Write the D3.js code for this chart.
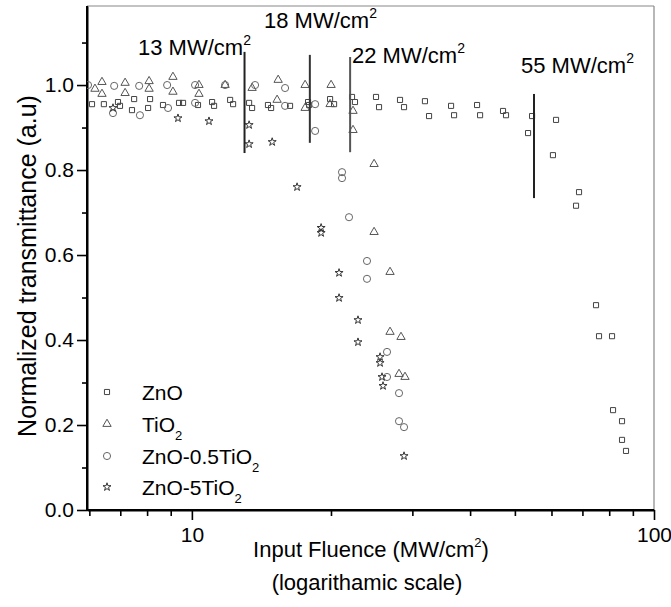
<!DOCTYPE html>
<html>
<head>
<meta charset="utf-8">
<script src="https://cdn.jsdelivr.net/npm/d3@7"></script>
<style>
  body { margin: 0; background: #fff; }
  svg { display: block; }
  text { font-family: "Liberation Sans", Arial, Helvetica, sans-serif; fill: #000; }
</style>
</head>
<body>
<svg id="chart" width="671" height="607"></svg>
<script>
// ---- data: input fluence (MW/cm^2) and normalized transmittance per sample ----
const znoFluence = [6.08,6.45,6.92,6.99,7.50,7.42,8.04,8.12,8.66,9.38,9.57,10.31,11.06,11.17,12.10,12.28,13.30,13.50,14.61,14.84,16.31,17.84,17.93,19.91,20.31,22.21,22.54,25.03,25.41,28.21,28.78,31.94,32.60,36.38,36.93,41.41,42.04,47.13,47.84,54.47,53.39,61.38,60.44,68.83,67.81,74.91,76.04,81.13,81.54,85.27,85.27,86.98];
const znoT = [0.955,0.955,0.960,0.951,0.967,0.941,0.946,0.967,0.953,0.958,0.958,0.953,0.960,0.951,0.965,0.955,0.958,0.946,0.953,0.946,0.951,0.960,0.953,0.967,0.955,0.972,0.960,0.972,0.948,0.965,0.948,0.962,0.927,0.951,0.929,0.953,0.929,0.939,0.929,0.927,0.887,0.918,0.835,0.748,0.716,0.482,0.409,0.409,0.235,0.209,0.165,0.139];

const tio2Fluence = [6.17,6.39,6.39,7.17,7.17,8.08,8.08,9.10,9.10,10.36,10.36,11.80,13.50,15.37,15.29,17.58,17.58,20.01,19.91,22.32,22.32,24.79,24.79,26.84,26.84,28.35,28.07,28.92];
const tio2T = [0.991,1.007,0.979,1.005,0.981,1.009,0.991,1.019,0.984,1.000,0.979,1.000,0.993,1.012,0.965,1.000,0.946,1.000,0.955,0.939,0.894,0.814,0.654,0.560,0.419,0.407,0.320,0.313];

const mix05Fluence = [5.96,6.79,6.75,7.69,7.72,8.84,8.88,10.16,10.16,11.80,13.70,15.91,15.91,18.48,18.48,21.13,21.13,21.88,23.93,23.93,26.44,26.44,28.07,28.07,28.78];
const mix05T = [1.000,0.998,0.934,0.998,0.929,1.000,0.946,1.000,0.958,1.000,1.000,0.993,0.951,0.955,0.892,0.795,0.781,0.689,0.586,0.544,0.372,0.313,0.275,0.209,0.195];

const mix5Fluence = [6.75,9.33,10.89,13.30,13.30,14.92,16.89,19.04,19.04,20.82,20.82,22.88,22.88,25.54,25.54,25.79,25.92,28.78];
const mix5T = [0.946,0.922,0.915,0.906,0.861,0.866,0.760,0.664,0.652,0.558,0.499,0.447,0.395,0.360,0.346,0.313,0.292,0.127];

// threshold markers: fluence and vertical extent (transmittance)
const thresholdFluence = [13, 18, 22, 55];
const thresholdTop = [1.078, 1.071, 1.066, 0.979];
const thresholdBottom = [0.840, 0.864, 0.842, 0.734];

// axis ticks
const xMajorTicks = [10, 100];
const xMinorTicks = [6, 7, 8, 9, 20, 30, 40, 50, 60, 70, 80, 90];
const yMajorTicks = [0.0, 0.2, 0.4, 0.6, 0.8, 1.0];
const yMinorTicks = [0.1, 0.3, 0.5, 0.7, 0.9, 1.1];

const seriesNames = ["ZnO", "TiO", "ZnO-0.5TiO", "ZnO-5TiO"];
const seriesSubs = ["", "2", "2", "2"];

// ---- layout ----
const svg = d3.select("#chart");
const L = 87, R = 654, T = 6, B = 510;

const x = d3.scaleLog().domain([5.93, 100]).range([L, R]);
const y = d3.scaleLinear().domain([0, 1.186]).range([B, T]);

svg.append("defs").append("clipPath").attr("id", "plotClip")
  .append("rect").attr("x", L).attr("y", T).attr("width", R - L).attr("height", B - T);

// frame (top and right)
svg.append("line").attr("x1", L).attr("x2", R).attr("y1", T).attr("y2", T)
  .attr("stroke", "#888").attr("stroke-width", 1.2);
svg.append("line").attr("x1", R).attr("x2", R).attr("y1", T).attr("y2", B)
  .attr("stroke", "#888").attr("stroke-width", 1.2);

// x axis
const gxMinor = svg.append("g").attr("transform", `translate(0,${B})`)
  .call(d3.axisBottom(x).tickValues(xMinorTicks).tickSize(6).tickSizeOuter(0).tickFormat(""));
const gx = svg.append("g").attr("transform", `translate(0,${B})`)
  .call(d3.axisBottom(x).tickValues(xMajorTicks).tickSize(10).tickSizeOuter(0).tickPadding(7)
    .tickFormat(d3.format("d")));
// y axis
const gyMinor = svg.append("g").attr("transform", `translate(${L},0)`)
  .call(d3.axisLeft(y).tickValues(yMinorTicks).tickSize(5).tickSizeOuter(0).tickFormat(""));
const gy = svg.append("g").attr("transform", `translate(${L},0)`)
  .call(d3.axisLeft(y).tickValues(yMajorTicks).tickSize(10).tickSizeOuter(0).tickPadding(3)
    .tickFormat(d3.format(".1f")));

[gx, gy, gxMinor, gyMinor].forEach(g => {
  g.selectAll(".tick line").attr("stroke", "#000").attr("stroke-width", 1.6);
  g.select(".domain").attr("stroke", "#000").attr("stroke-width", 2);
  g.selectAll("text").style("font-size", "21px").attr("fill", "#000");
});
gx.select(".domain").attr("d", `M${L},0H${R}`);
gy.select(".domain").attr("d", `M0,${B}V${T}`);

// axis titles
const xt = svg.append("text").attr("x", 371).attr("y", 557).attr("text-anchor", "middle")
  .style("font-size", "22px");
xt.append("tspan").text("Input Fluence (MW/cm");
xt.append("tspan").text("2").style("font-size", "13px").attr("dy", -10);
xt.append("tspan").text(")").attr("dy", 10);
svg.append("text").attr("x", 367).attr("y", 590).attr("text-anchor", "middle")
  .style("font-size", "22px").text("(logarithamic scale)");

svg.append("text").attr("transform", "translate(36,266) rotate(-90)")
  .attr("text-anchor", "middle").style("font-size", "25px")
  .text("Normalized transmittance (a.u)");

// threshold lines and labels
const thrColor = ["#222", "#333", "#555", "#222"];
const labelPos = [[138, 55], [264, 28], [352, 63], [521, 73]];
const plot = svg.append("g").attr("clip-path", "url(#plotClip)");

thresholdFluence.forEach((f, i) => {
  svg.append("line")
    .attr("x1", x(f)).attr("x2", x(f))
    .attr("y1", y(thresholdTop[i])).attr("y2", y(thresholdBottom[i]))
    .attr("stroke", thrColor[i]).attr("stroke-width", 2);
  const t = svg.append("text").attr("x", labelPos[i][0]).attr("y", labelPos[i][1])
    .style("font-size", "22px");
  t.append("tspan").text(`${f} MW/cm`);
  t.append("tspan").text("2").style("font-size", "14px").attr("dy", -10);
});

// markers
const symbols = [
  d3.symbol().type(d3.symbolSquare).size(26),
  d3.symbol().type(d3.symbolTriangle).size(30),
  d3.symbol().type(d3.symbolCircle).size(40),
  d3.symbol().type(d3.symbolStar).size(20)
];
const colors = ["#444", "#555", "#666", "#333"];
const series = [
  [znoFluence, znoT],
  [tio2Fluence, tio2T],
  [mix05Fluence, mix05T],
  [mix5Fluence, mix5T]
];

series.forEach(([fx, ty], si) => {
  plot.append("g").selectAll("path")
    .data(fx.map((f, i) => [f, ty[i]]))
    .join("path")
    .attr("transform", d => `translate(${x(d[0])},${y(d[1])})`)
    .attr("d", symbols[si]())
    .attr("fill", "none")
    .attr("stroke", colors[si])
    .attr("stroke-width", 1);
});

// legend
const legY = [392, 424, 456, 487];
seriesNames.forEach((name, i) => {
  svg.append("path")
    .attr("transform", `translate(107,${legY[i]})`)
    .attr("d", symbols[i]())
    .attr("fill", "none").attr("stroke", colors[i]).attr("stroke-width", 1);
  const t = svg.append("text").attr("x", 142).attr("y", legY[i] + 8).style("font-size", "21px");
  t.append("tspan").text(name);
  if (seriesSubs[i]) t.append("tspan").text(seriesSubs[i]).style("font-size", "13px").attr("dy", 8);
});
</script>
</body>
</html>
